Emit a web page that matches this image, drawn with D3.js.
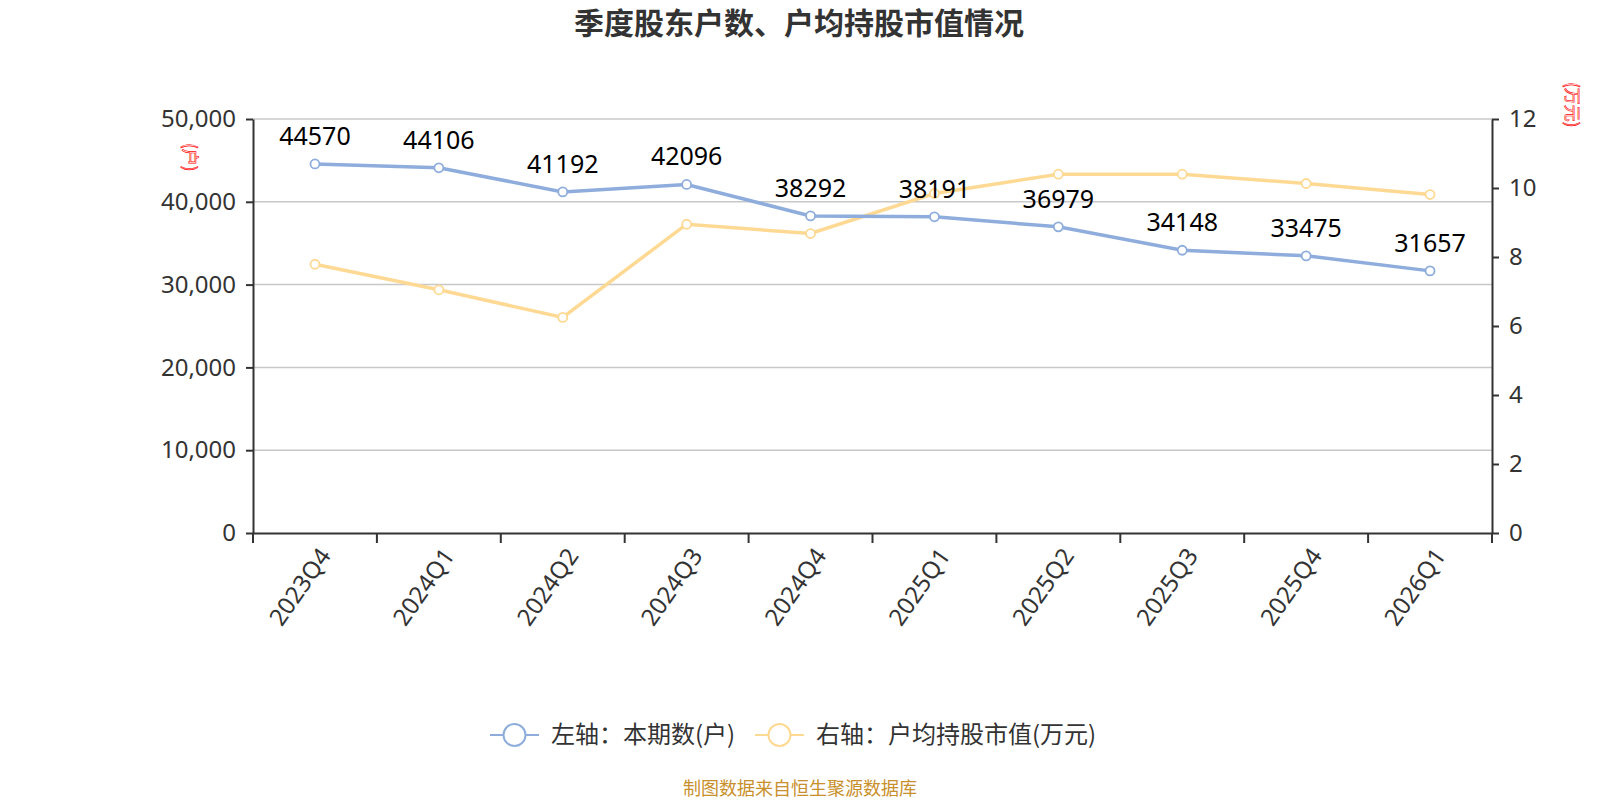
<!DOCTYPE html>
<html>
<head>
<meta charset="utf-8">
<script src="https://cdn.jsdelivr.net/npm/d3@7"></script>
<style>
  body { margin: 0; background: #fff; }
  svg { font-family: "Noto Sans CJK SC", "Noto Sans", sans-serif; }
</style>
</head>
<body>
<svg id="chart" width="1600" height="800"></svg>
<script>
// quarters and values
const quarters = ["2023Q4", "2024Q1", "2024Q2", "2024Q3", "2024Q4", "2025Q1", "2025Q2", "2025Q3", "2025Q4", "2026Q1"];
const holders = [44570, 44106, 41192, 42096, 38292, 38191, 36979, 34148, 33475, 31657];
const avgValue = [7.79, 7.05, 6.25, 8.95, 8.68, 9.84, 10.4, 10.4, 10.13, 9.81];
const leftTicks = [0, 10000, 20000, 30000, 40000, 50000];
const rightTicks = [0, 2, 4, 6, 8, 10, 12];

const blue = "#8eaddc", yellow = "#fed993";
const plotL = 253, plotR = 1492, plotT = 119, plotB = 533;

const svg = d3.select("#chart");

let x = d3.scaleBand().domain(quarters).range([plotL, plotR]);
let yL = d3.scaleLinear().domain([0, 50000]).range([plotB, plotT]);
let yR = d3.scaleLinear().domain([0, 12]).range([plotB, plotT]);

// title
svg.append("text").attr("x", 799).attr("y", 34).attr("text-anchor", "middle")
    .attr("font-size", 30).attr("font-weight", "bold").attr("fill", "#333")
    .text("季度股东户数、户均持股市值情况");

// grid lines from left axis
svg.append("g").selectAll("line").data(leftTicks.slice(1)).enter()
    .append("line")
        .attr("x1", plotL).attr("x2", plotR)
        .attr("y1", d => yL(d)).attr("y2", d => yL(d))
        .attr("stroke", "#c8c8c8").attr("stroke-width", 1.5);

// left axis
let leftAxis = d3.axisLeft(yL).tickValues(leftTicks).tickFormat(d3.format(",")).tickSizeInner(7).tickSizeOuter(0).tickPadding(10);
let gL = svg.append("g").attr("transform", `translate(${plotL},0)`).call(leftAxis);
gL.select(".domain").attr("stroke", "#333").attr("stroke-width", 2);
gL.selectAll(".tick line").attr("stroke", "#333").attr("stroke-width", 2);
gL.selectAll("text").attr("font-size", 24).attr("fill", "#333").attr("font-family", "Noto Sans");

// right axis
let rightAxis = d3.axisRight(yR).tickValues(rightTicks).tickSizeInner(7).tickSizeOuter(0).tickPadding(10);
let gR = svg.append("g").attr("transform", `translate(${plotR},0)`).call(rightAxis);
gR.select(".domain").attr("stroke", "#333").attr("stroke-width", 2);
gR.selectAll(".tick line").attr("stroke", "#333").attr("stroke-width", 2);
gR.selectAll("text").attr("font-size", 24).attr("fill", "#333").attr("font-family", "Noto Sans");

// bottom axis, ticks on band edges
let bottomAxis = d3.axisBottom(x).tickSize(0).tickPadding(10);
let gB = svg.append("g").attr("transform", `translate(0,${plotB})`).call(bottomAxis);
gB.select(".domain").attr("stroke", "#333").attr("stroke-width", 2);
gB.selectAll(".tick text")
    .attr("font-size", 24).attr("fill", "#333").attr("font-family", "Noto Sans")
    .attr("text-anchor", "end").attr("y", 0).attr("dy", "0.35em")
    .attr("transform", "translate(10,18) rotate(-55)");
let edges = quarters.map(q => x(q)).concat([plotR]);
gB.selectAll(".edge").data(edges).enter().append("line")
    .attr("x1", d => d).attr("x2", d => d).attr("y1", 0).attr("y2", 10)
    .attr("stroke", "#333").attr("stroke-width", 2);

// axis unit names (outlined red, vertical)
svg.append("text").attr("transform", "translate(184,143) rotate(90)")
    .attr("font-size", 17).attr("fill", "#fff").attr("stroke", "red").attr("stroke-width", 0.6)
    .text("(户)");
svg.append("text").attr("transform", "translate(1566,82) rotate(90)")
    .attr("font-size", 17).attr("fill", "#fff").attr("stroke", "red").attr("stroke-width", 0.6)
    .text("(万元)");

const cx = q => x(q) + x.bandwidth() / 2;

// yellow line (right axis)
svg.append("path").datum(avgValue)
    .attr("fill", "none").attr("stroke", yellow).attr("stroke-width", 3.5)
    .attr("d", d3.line().x((d, i) => cx(quarters[i])).y(d => yR(d)));

// blue line (left axis)
svg.append("path").datum(holders)
    .attr("fill", "none").attr("stroke", blue).attr("stroke-width", 3.5)
    .attr("d", d3.line().x((d, i) => cx(quarters[i])).y(d => yL(d)));

svg.append("g").selectAll("circle").data(avgValue).enter().append("circle")
    .attr("cx", (d, i) => cx(quarters[i])).attr("cy", d => yR(d)).attr("r", 4.5)
    .attr("fill", "#fff").attr("stroke", yellow).attr("stroke-width", 1.8);

svg.append("g").selectAll("circle").data(holders).enter().append("circle")
    .attr("cx", (d, i) => cx(quarters[i])).attr("cy", d => yL(d)).attr("r", 4.5)
    .attr("fill", "#fff").attr("stroke", blue).attr("stroke-width", 1.8);

// value labels above blue points
svg.append("g").selectAll("text").data(holders).enter().append("text")
    .attr("x", (d, i) => cx(quarters[i])).attr("y", d => yL(d) - 19)
    .attr("text-anchor", "middle").attr("font-size", 25).attr("fill", "#000")
    .attr("font-family", "Noto Sans")
    .text(d => d);

// legend
const legend = [
    { name: "左轴：本期数(户)", color: blue, x: 490 },
    { name: "右轴：户均持股市值(万元)", color: yellow, x: 755 }
];
let lg = svg.append("g").selectAll("g").data(legend).enter().append("g")
    .attr("transform", d => `translate(${d.x},735)`);
lg.append("line").attr("x1", 0).attr("x2", 49).attr("stroke", d => d.color).attr("stroke-width", 2);
lg.append("circle").attr("cx", 24.5).attr("r", 11).attr("fill", "#fff").attr("stroke", d => d.color).attr("stroke-width", 2);
lg.append("text").attr("x", 61).attr("dy", "0.35em").attr("font-size", 24).attr("fill", "#333")
    .text(d => d.name);

// source note
svg.append("text").attr("x", 800).attr("y", 795).attr("text-anchor", "middle")
    .attr("font-size", 18).attr("fill", "#c8902c")
    .text("制图数据来自恒生聚源数据库");
</script>
</body>
</html>
